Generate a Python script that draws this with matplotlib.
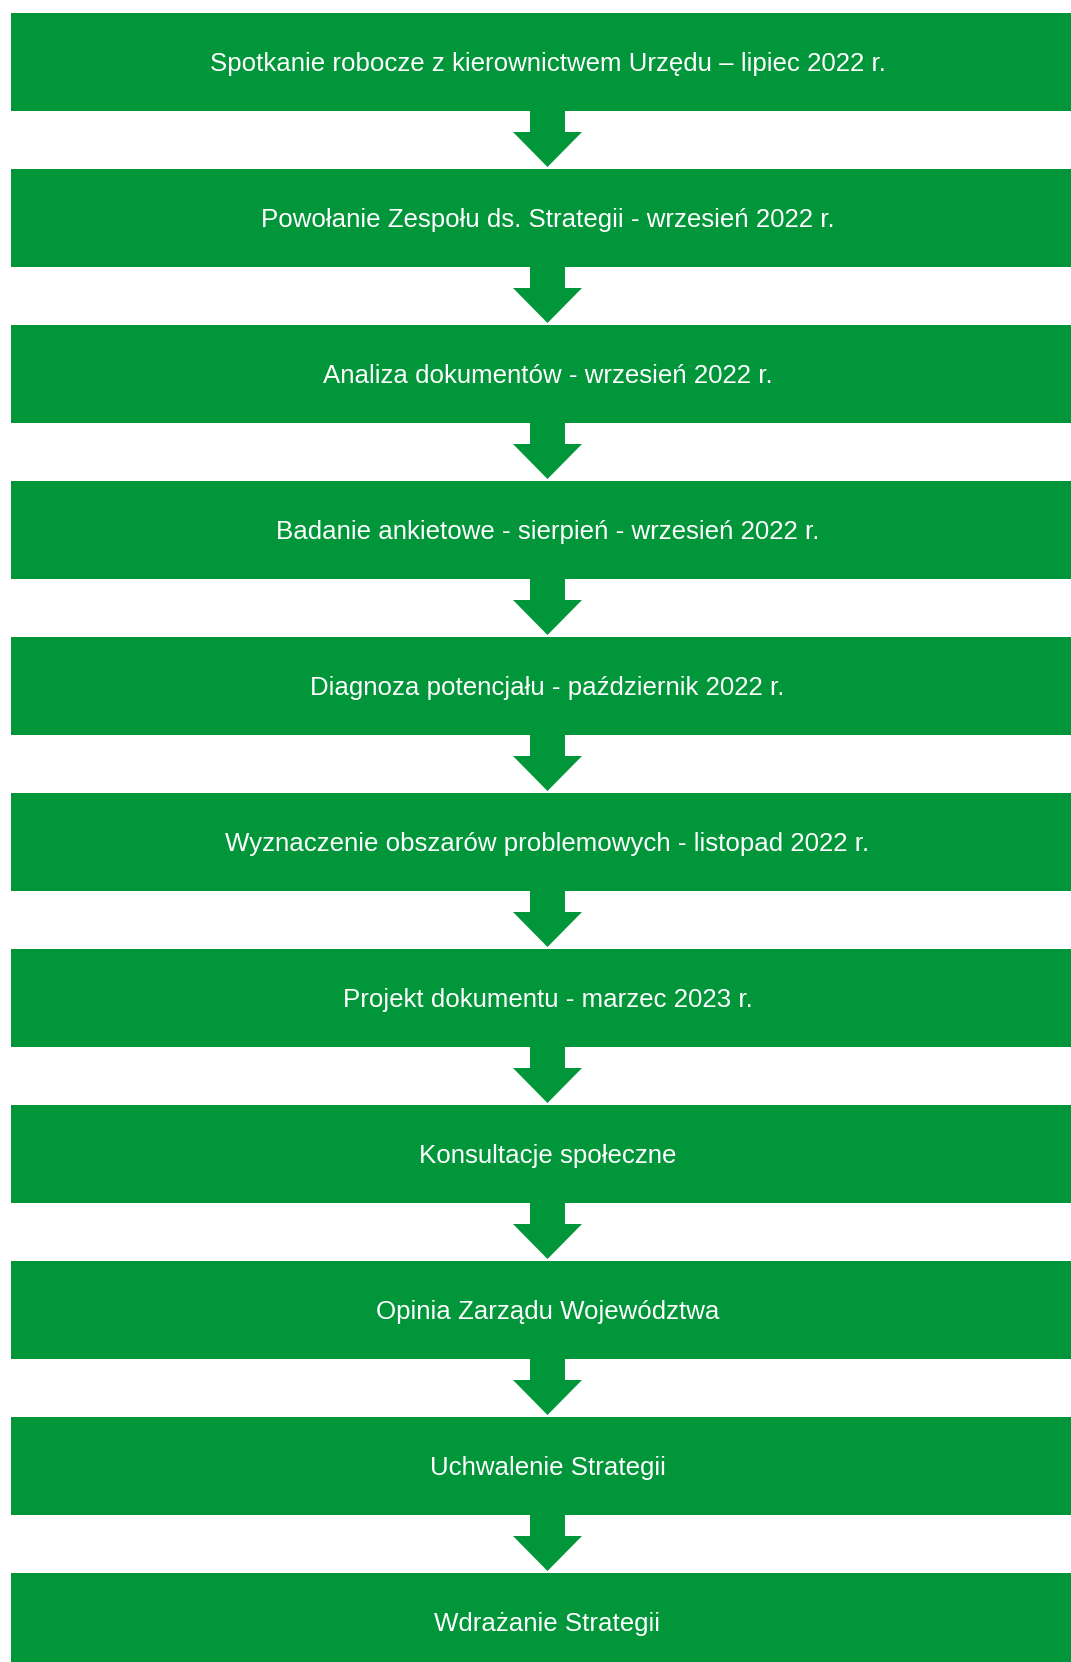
import matplotlib.pyplot as plt
from matplotlib.patches import Rectangle, Polygon

steps = [
    "Spotkanie robocze z kierownictwem Urzędu – lipiec 2022 r.",
    "Powołanie Zespołu ds. Strategii - wrzesień 2022 r.",
    "Analiza dokumentów - wrzesień 2022 r.",
    "Badanie ankietowe - sierpień - wrzesień 2022 r.",
    "Diagnoza potencjału - październik 2022 r.",
    "Wyznaczenie obszarów problemowych - listopad 2022 r.",
    "Projekt dokumentu - marzec 2023 r.",
    "Konsultacje społeczne",
    "Opinia Zarządu Województwa",
    "Uchwalenie Strategii",
    "Wdrażanie Strategii",
]

GREEN = "#009639"
W, H = 1071, 1662
top0, pitch, box_h = 13, 156, 98
left, right = 10.5, 1085
cx = 547.5

fig = plt.figure(figsize=(W / 100, H / 100), dpi=100)
ax = fig.add_axes([0, 0, 1, 1])
ax.set_xlim(0, W)
ax.set_ylim(H, 0)
ax.axis("off")

for i, label in enumerate(steps):
    y = top0 + i * pitch
    ax.add_patch(Rectangle((left, y), right - left, box_h, color=GREEN, lw=0))
    ax.text(cx, y + box_h / 2 + 2, label, color="white", ha="center", va="center",
            fontsize=18.6, family=["Liberation Sans", "DejaVu Sans"])
    if i < len(steps) - 1:
        yb = y + box_h
        arrow = [(cx - 17.5, yb), (cx + 17.5, yb), (cx + 17.5, yb + 21),
                 (cx + 34.5, yb + 21), (cx, yb + 56), (cx - 34.5, yb + 21),
                 (cx - 17.5, yb + 21)]
        ax.add_patch(Polygon(arrow, closed=True, color=GREEN, lw=0))

fig.savefig("out.png", dpi=100)
